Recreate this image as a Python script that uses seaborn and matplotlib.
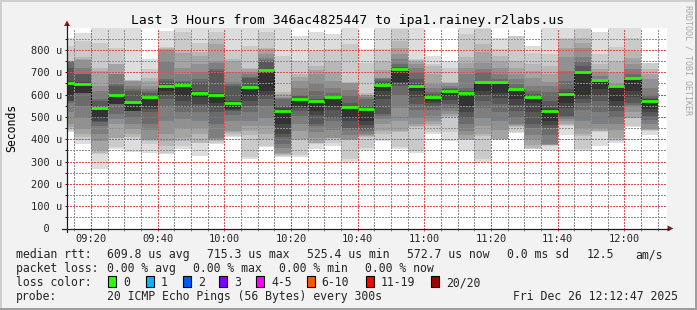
import numpy as np
import pandas as pd
import matplotlib
matplotlib.use("Agg")
import matplotlib.pyplot as plt
import seaborn as sns
from matplotlib.patches import Rectangle, Polygon
from matplotlib.lines import Line2D
from matplotlib.ticker import MultipleLocator, FixedLocator

# ---------------- data ----------------
bar_times = ["09:10", "09:15", "09:20", "09:25", "09:30", "09:35", "09:40", "09:45", "09:50",
             "09:55", "10:00", "10:05", "10:10", "10:15", "10:20", "10:25", "10:30", "10:35",
             "10:40", "10:45", "10:50", "10:55", "11:00", "11:05", "11:10", "11:15", "11:20",
             "11:25", "11:30", "11:35", "11:40", "11:45", "11:50", "11:55", "12:00", "12:05"]

# median rtt per 5-minute step (microseconds)
median_us = [650, 649, 540, 598, 567, 590, 638, 642, 609, 598, 563, 634, 708, 528, 582, 572,
             590, 545, 537, 643, 715.3, 639, 590, 618, 606, 655, 655, 625, 590, 525.4, 604,
             700, 664, 639, 673, 572.7]

# the 20 sorted ping times per step (microseconds), read approximately from the smoke bands
pings_us = [
    [430, 438, 445, 455, 467, 520, 560, 572, 572, 600, 650, 660, 720, 751, 751, 751, 751, 751, 818, 855],
    [378, 395, 410, 422, 445, 500, 549, 609, 609, 609, 649, 654, 691, 691, 720, 754, 760, 770, 840, 877],
    [266, 333, 340, 350, 390, 422, 460, 475, 482, 500, 540, 545, 572, 580, 616, 640, 706, 720, 830, 900],
    [355, 365, 407, 407, 467, 490, 512, 557, 557, 557, 598, 602, 639, 645, 691, 691, 736, 736, 810, 900],
    [343, 400, 410, 422, 445, 467, 500, 527, 527, 527, 567, 572, 616, 625, 640, 661, 662, 663, 664, 900],
    [338, 378, 390, 395, 400, 440, 467, 520, 535, 542, 590, 594, 605, 616, 625, 639, 660, 676, 713, 758],
    [333, 340, 370, 393, 422, 480, 542, 580, 600, 616, 638, 645, 660, 669, 751, 800, 805, 808, 811, 885],
    [355, 370, 390, 407, 452, 490, 520, 542, 570, 594, 642, 648, 655, 661, 690, 721, 788, 800, 880, 900],
    [325, 383, 385, 422, 450, 482, 520, 545, 557, 587, 609, 616, 654, 670, 699, 736, 773, 790, 833, 900],
    [380, 385, 390, 395, 400, 407, 470, 520, 550, 564, 598, 609, 706, 715, 740, 751, 825, 850, 880, 900],
    [410, 415, 425, 430, 437, 480, 510, 527, 530, 534, 563, 572, 639, 645, 654, 700, 751, 760, 796, 900],
    [310, 320, 420, 437, 460, 482, 520, 549, 570, 594, 634, 640, 676, 680, 690, 700, 713, 720, 818, 897],
    [363, 370, 400, 422, 460, 497, 550, 580, 594, 616, 708, 715, 751, 755, 765, 781, 803, 810, 880, 900],
    [318, 325, 330, 335, 340, 360, 378, 410, 422, 467, 528, 540, 549, 579, 585, 590, 601, 610, 773, 900],
    [320, 330, 395, 400, 437, 470, 504, 525, 540, 549, 582, 586, 594, 600, 631, 660, 680, 691, 751, 863],
    [355, 380, 383, 385, 407, 430, 460, 467, 510, 527, 572, 575, 579, 616, 650, 691, 710, 728, 796, 878],
    [370, 385, 400, 405, 407, 440, 480, 497, 530, 549, 590, 592, 594, 609, 630, 661, 700, 751, 803, 870],
    [300, 310, 395, 398, 400, 420, 440, 452, 480, 497, 545, 548, 560, 594, 620, 650, 652, 654, 825, 900],
    [350, 360, 410, 415, 420, 422, 435, 445, 465, 482, 537, 540, 549, 580, 590, 594, 600, 609, 743, 803],
    [390, 400, 425, 437, 467, 490, 505, 512, 580, 616, 643, 646, 660, 668, 672, 676, 710, 751, 803, 900],
    [355, 365, 430, 437, 482, 540, 600, 640, 650, 654, 719, 721, 725, 736, 760, 781, 810, 840, 895, 900],
    [338, 345, 455, 460, 467, 500, 530, 557, 590, 616, 639, 650, 670, 700, 720, 736, 745, 755, 758, 900],
    [422, 430, 460, 467, 482, 505, 530, 549, 560, 569, 590, 595, 601, 610, 630, 646, 690, 730, 736, 773],
    [392, 430, 500, 505, 512, 525, 540, 557, 575, 594, 618, 620, 624, 630, 640, 650, 652, 654, 721, 751],
    [352, 395, 398, 400, 420, 437, 470, 497, 520, 549, 606, 610, 615, 631, 691, 720, 740, 766, 870, 900],
    [300, 310, 415, 422, 460, 497, 540, 572, 600, 616, 655, 658, 661, 700, 713, 743, 790, 825, 893, 900],
    [398, 399, 400, 400, 440, 482, 520, 557, 585, 609, 655, 658, 662, 669, 690, 721, 750, 773, 803, 855],
    [426, 432, 455, 460, 465, 467, 500, 527, 555, 579, 625, 628, 631, 646, 670, 691, 720, 751, 860, 863],
    [355, 358, 360, 375, 400, 420, 450, 467, 520, 560, 590, 595, 601, 615, 640, 676, 705, 736, 788, 818],
    [345, 370, 372, 374, 376, 378, 420, 452, 465, 482, 530, 540, 570, 610, 640, 654, 690, 728, 781, 900],
    [420, 460, 465, 467, 480, 490, 500, 505, 540, 564, 604, 612, 624, 660, 706, 766, 810, 850, 855, 900],
    [348, 355, 415, 422, 450, 482, 530, 564, 580, 594, 700, 706, 730, 750, 766, 810, 830, 855, 895, 900],
    [370, 432, 435, 437, 450, 467, 520, 572, 600, 624, 664, 666, 667, 669, 685, 699, 715, 736, 781, 878],
    [385, 390, 400, 407, 440, 467, 500, 527, 550, 572, 639, 640, 641, 642, 644, 646, 700, 751, 811, 900],
    [455, 460, 495, 497, 520, 542, 555, 564, 590, 616, 673, 676, 679, 691, 715, 736, 765, 796, 855, 900],
    [418, 438, 440, 443, 445, 467, 485, 504, 520, 534, 575, 579, 585, 594, 630, 669, 690, 713, 740, 743],
]

x_tick_labels = ["09:20", "09:40", "10:00", "10:20", "10:40", "11:00", "11:20", "11:40", "12:00"]
y_tick_values = [0, 100, 200, 300, 400, 500, 600, 700, 800]

title = "Last 3 Hours from 346ac4825447 to ipa1.rainey.r2labs.us"
legend_rtt = ["609.8 us avg", "715.3 us max", "525.4 us min", "572.7 us now", "0.0 ms sd", "12.5", "am/s"]
legend_loss = ["0.00 % avg", "0.00 % max", "0.00 % min", "0.00 % now"]
loss_labels = ["0", "1", "2", "3", "4-5", "6-10", "11-19", "20/20"]
loss_colors = ["#26ff00", "#00b8ff", "#0059ff", "#7e00ff", "#ff00ff", "#ff5500", "#ff0000", "#a10000"]
probe_text = "20 ICMP Echo Pings (56 Bytes) every 300s"
date_text = "Fri Dec 26 12:12:47 2025"

# ---------------- helpers ----------------
def to_min(s):
    h, m = s.split(":")
    return (int(h) - 9) * 60 + int(m)

starts = np.array([to_min(t) for t in bar_times], dtype=float)
pings = np.sort(np.array(pings_us, dtype=float), axis=1)
med = np.array(median_us, dtype=float)

W, H = 697, 310
sns.set_theme(style="white")
MONO = "DejaVu Sans Mono"
plt.rcParams["font.family"] = [MONO, "DejaVu Sans"]

fig = plt.figure(figsize=(W / 100, H / 100), dpi=100)
fig.patch.set_facecolor("#f2f2f2")

def fx(x):
    return x / W

def fy(y):
    return 1 - y / H

PL, PR, PT, PB = 67, 667, 28, 228.5
ax = fig.add_axes([fx(PL), fy(PB), (PR - PL) / W, (PB - PT) / H])
ax.set_facecolor("white")

x_start = 12 + 47 / 60
ax.set_xlim(x_start, x_start + 180)
ax.set_ylim(0, 898)

DOT = (0, (1.2, 1.2))   # ~1.5px on / 1.5px off when not antialiased

# smoke bands (outer light -> inner dark)
shades = [19 * (10 - k) + 50 for k in range(1, 11)]
for k in range(10):
    lo = pings[:, k]
    hi = pings[:, 19 - k]
    c = "#%02x%02x%02x" % (shades[k], shades[k], shades[k])
    ax.bar(starts, hi - lo, bottom=lo, width=5, align="edge", color=c,
           linewidth=0, antialiased=False, zorder=1)

# step connectors of the median line
step_df = pd.DataFrame({"t": np.append(starts, starts[-1] + 5), "m": np.append(med, med[-1])})
sns.lineplot(data=step_df, x="t", y="m", ax=ax, drawstyle="steps-post", color="#101010",
             lw=0.72, linestyle=DOT, antialiased=False, zorder=3)

# green median segments (0 loss)
ax.hlines(med, starts, starts + 5, color=loss_colors[0], lw=2.0, zorder=4)

# grid
ax.xaxis.set_major_locator(FixedLocator([to_min(t) for t in x_tick_labels]))
ax.xaxis.set_minor_locator(MultipleLocator(5))
ax.set_xticklabels(x_tick_labels)
ax.set_yticks(y_tick_values)
ax.set_yticklabels([("%3d u" % v) if v else "  0" for v in y_tick_values])
ax.yaxis.set_minor_locator(MultipleLocator(50))
ax.set_axisbelow(False)
ax.grid(which="major", color=(0.87, 0.31, 0.31, 0.6), linestyle=DOT, lw=0.72, antialiased=False)
ax.grid(which="minor", color=(0.56, 0.56, 0.56, 0.75), linestyle=DOT, lw=0.72, antialiased=False)
ax.set_xlabel("")
ax.set_ylabel("")

for s in ["top", "right", "left", "bottom"]:
    ax.spines[s].set_visible(False)

ax.tick_params(axis="x", which="both", bottom=True, length=1.6, width=0.72, labelsize=7.5,
               pad=2.6, direction="out")
ax.tick_params(axis="x", which="major", color=(0.87, 0.31, 0.31))
ax.tick_params(axis="x", which="minor", color=(0.56, 0.56, 0.56))
ax.tick_params(axis="y", which="both", left=True, length=1.6, width=0.72, labelsize=7.5,
               pad=24.0, color="#1f1f1f", direction="out")
for lab in ax.get_yticklabels():
    lab.set_horizontalalignment("left")
    lab.set_family(MONO)
for lab in ax.get_xticklabels():
    lab.set_family(MONO)

# axes lines + arrows (pixel coordinates)
fig.add_artist(Line2D([fx(62), fx(669)], [fy(PB), fy(PB)], color="#1f1f1f", lw=0.9))
fig.add_artist(Line2D([fx(PL), fx(PL)], [fy(232), fy(24)], color="#1f1f1f", lw=0.9))
fig.add_artist(Polygon([[fx(673.5), fy(PB)], [fx(667.5), fy(PB - 3)], [fx(667.5), fy(PB + 3)]],
                       closed=True, color="#801f1f", lw=0))
fig.add_artist(Polygon([[fx(PL), fy(20.5)], [fx(PL - 3), fy(26)], [fx(PL + 3), fy(26)]],
                       closed=True, color="#801f1f", lw=0))

# title and labels
fig.text(fx(347.5), fy(24), title, ha="center", va="baseline", fontsize=9.4, family=MONO, color="black")
fig.text(fx(11.5), fy(128), "Seconds", ha="center", va="center", rotation=90, fontsize=8.3,
         family=MONO, color="black")
fig.text(fx(688), fy(5), "RRDTOOL / TOBI OETIKER", ha="center", va="top", rotation=270,
         fontsize=6, family=MONO, color="#a8a8a8")

LF = 8.3
rows_y = [258.3, 272.3, 286.3, 300.3]
fig.text(fx(16), fy(rows_y[0]), "median rtt:", fontsize=LF, family=MONO, va="baseline")
for x, t in zip([107.3, 207.3, 307.3, 407.3, 506.7, 586.7, 635], legend_rtt):
    fig.text(fx(x), fy(rows_y[0]), t, fontsize=LF, family=MONO, va="baseline")
fig.text(fx(16), fy(rows_y[1]), "packet loss:", fontsize=LF, family=MONO, va="baseline")
for x, t in zip([107.3, 193.3, 279.3, 365], legend_loss):
    fig.text(fx(x), fy(rows_y[1]), t, fontsize=LF, family=MONO, va="baseline")
fig.text(fx(16), fy(rows_y[2]), "loss color:", fontsize=LF, family=MONO, va="baseline")
box_x = [108.3, 145.7, 182.7, 219.3, 256.0, 306.7, 365.7, 430.7]
for bx, lab, col in zip(box_x, loss_labels, loss_colors):
    fig.add_artist(Rectangle((fx(bx), fy(286.5)), 8 / W, 11 / H, transform=fig.transFigure,
                             facecolor=col, edgecolor="black", lw=0.8))
    fig.text(fx(bx + 15), fy(rows_y[2]), lab, fontsize=LF, family=MONO, va="baseline")
fig.text(fx(16), fy(rows_y[3]), "probe:", fontsize=LF, family=MONO, va="baseline")
fig.text(fx(107.3), fy(rows_y[3]), probe_text, fontsize=LF, family=MONO, va="baseline")
fig.text(fx(513.3), fy(rows_y[3]), date_text, fontsize=LF, family=MONO, va="baseline")

# 3D frame
fig.add_artist(Rectangle((0, fy(2)), 1, 2 / H, transform=fig.transFigure, color="#cfcfcf", lw=0))
fig.add_artist(Rectangle((0, 0), 2 / W, 1, transform=fig.transFigure, color="#cfcfcf", lw=0))
fig.add_artist(Rectangle((0, 0), 1, 2 / H, transform=fig.transFigure, color="#9e9e9e", lw=0))
fig.add_artist(Rectangle((fx(695), 0), 2 / W, 1, transform=fig.transFigure, color="#9e9e9e", lw=0))

fig.savefig("out.png", dpi=100, facecolor=fig.get_facecolor())
